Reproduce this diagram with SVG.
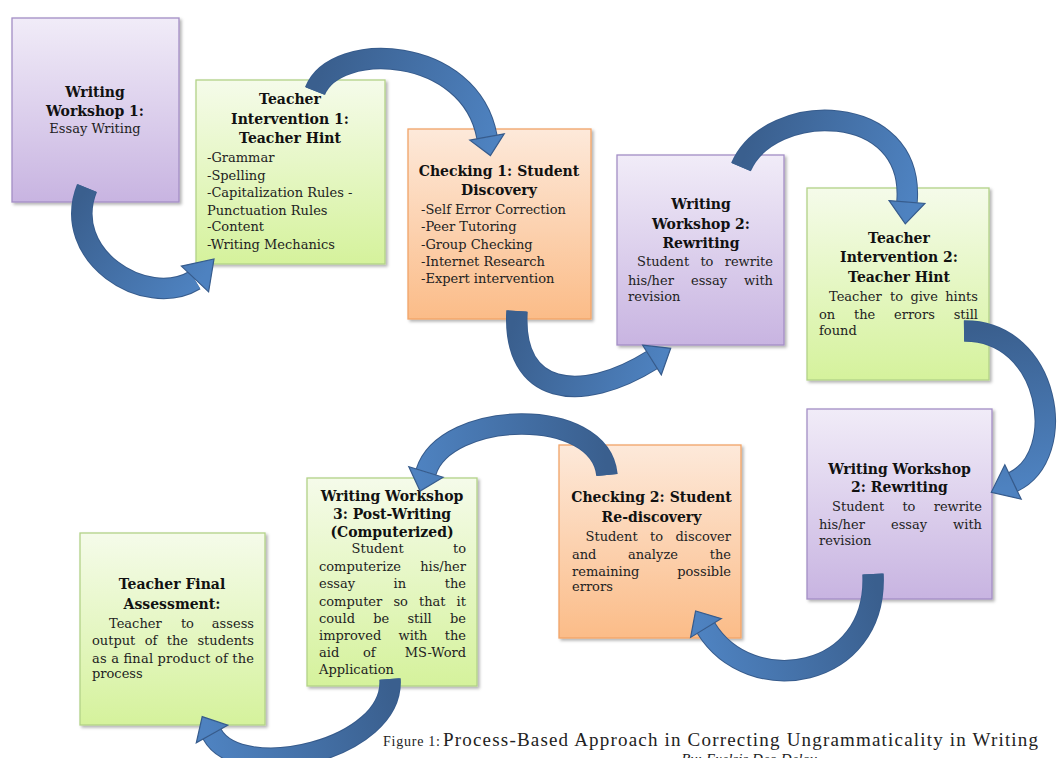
<svg xmlns="http://www.w3.org/2000/svg" width="1057" height="758" viewBox="0 0 1057 758">
<defs>
<linearGradient id="gPurple" x1="0" y1="0" x2="0" y2="1"><stop offset="0" stop-color="#f1ecf8"/><stop offset="1" stop-color="#c8b4e1"/></linearGradient>
<linearGradient id="gGreen" x1="0" y1="0" x2="0" y2="1"><stop offset="0" stop-color="#f5fbea"/><stop offset="1" stop-color="#d5f29c"/></linearGradient>
<linearGradient id="gOrange" x1="0" y1="0" x2="0" y2="1"><stop offset="0" stop-color="#fde9da"/><stop offset="1" stop-color="#fbbc88"/></linearGradient>
<filter id="sh" x="-5%" y="-5%" width="115%" height="115%"><feDropShadow dx="2" dy="2" stdDeviation="1.5" flood-color="#000" flood-opacity="0.3"/></filter>
<linearGradient id="a1" gradientUnits="userSpaceOnUse" x1="87" y1="188" x2="205" y2="275"><stop offset="0" stop-color="#3a5f8e"/><stop offset="1" stop-color="#4e82c0"/></linearGradient>
<linearGradient id="a2" gradientUnits="userSpaceOnUse" x1="315" y1="91" x2="490" y2="150"><stop offset="0" stop-color="#3a5f8e"/><stop offset="1" stop-color="#4e82c0"/></linearGradient>
<linearGradient id="a3" gradientUnits="userSpaceOnUse" x1="517" y1="311" x2="665" y2="355"><stop offset="0" stop-color="#3a5f8e"/><stop offset="1" stop-color="#4e82c0"/></linearGradient>
<linearGradient id="a4" gradientUnits="userSpaceOnUse" x1="741" y1="167" x2="906" y2="215"><stop offset="0" stop-color="#3a5f8e"/><stop offset="1" stop-color="#4e82c0"/></linearGradient>
<linearGradient id="a5" gradientUnits="userSpaceOnUse" x1="964" y1="331" x2="995" y2="490"><stop offset="0" stop-color="#3a5f8e"/><stop offset="1" stop-color="#4e82c0"/></linearGradient>
<linearGradient id="a6" gradientUnits="userSpaceOnUse" x1="873" y1="574" x2="698" y2="615"><stop offset="0" stop-color="#3a5f8e"/><stop offset="1" stop-color="#4e82c0"/></linearGradient>
<linearGradient id="a7" gradientUnits="userSpaceOnUse" x1="607" y1="475" x2="420" y2="485"><stop offset="0" stop-color="#3a5f8e"/><stop offset="1" stop-color="#4e82c0"/></linearGradient>
<linearGradient id="a8" gradientUnits="userSpaceOnUse" x1="390" y1="679" x2="205" y2="720"><stop offset="0" stop-color="#3a5f8e"/><stop offset="1" stop-color="#4e82c0"/></linearGradient>
</defs>
<style>
.box{filter:url(#sh);stroke-width:1.3}
.p{fill:url(#gPurple);stroke:#a38ec5}
.g{fill:url(#gGreen);stroke:#b2d287}
.o{fill:url(#gOrange);stroke:#f2a468}
.t{font-family:"DejaVu Serif",serif;font-weight:bold;font-size:14px;fill:#111;text-anchor:middle}
.b{font-family:"DejaVu Serif",serif;font-size:13px;fill:#222}
.e{text-anchor:end}
.bo{fill:none;stroke:#365b8c;stroke-width:21.5}
.bi{fill:none;stroke-width:19.5}
.hd{stroke:#365b8c;stroke-width:1.2}
.cap{font-family:"Liberation Serif",serif;fill:#222}
</style>
<rect width="1057" height="758" fill="#fff"/>

<g id="node-ww1">
<rect class="box p" x="12" y="18" width="167" height="184"/>
<text class="t" x="95" y="97">Writing</text>
<text class="t" x="95" y="116">Workshop 1:</text>
<text class="b" x="95" y="133" text-anchor="middle">Essay Writing</text>
</g>

<g id="node-ti1">
<rect class="box g" x="196" y="80" width="189" height="184"/>
<text class="t" x="290" y="104">Teacher</text>
<text class="t" x="290" y="124">Intervention 1:</text>
<text class="t" x="290" y="143">Teacher Hint</text>
<text class="b" x="207" y="162">-Grammar</text>
<text class="b" x="207" y="179.5">-Spelling</text>
<text class="b" x="207" y="197">-Capitalization Rules -</text>
<text class="b" x="207" y="214.5">Punctuation Rules</text>
<text class="b" x="207" y="231">-Content</text>
<text class="b" x="207" y="249">-Writing Mechanics</text>
</g>

<g id="node-ch1">
<rect class="box o" x="408" y="129" width="183" height="190"/>
<text class="t" x="499" y="175.5">Checking 1: Student</text>
<text class="t" x="499" y="195">Discovery</text>
<text class="b" x="421" y="214">-Self Error Correction</text>
<text class="b" x="421" y="231">-Peer Tutoring</text>
<text class="b" x="421" y="248.5">-Group Checking</text>
<text class="b" x="421" y="265.5">-Internet Research</text>
<text class="b" x="421" y="282.5">-Expert intervention</text>
</g>

<g id="node-ww2">
<rect class="box p" x="617" y="155" width="167" height="190"/>
<text class="t" x="701" y="209">Writing</text>
<text class="t" x="701" y="229">Workshop 2:</text>
<text class="t" x="701" y="247.5">Rewriting</text>
<text class="b" y="266"><tspan x="637">Student</tspan><tspan x="700.4">to</tspan><tspan x="773" class="e">rewrite</tspan></text>
<text class="b" y="284.5"><tspan x="628">his/her</tspan><tspan x="691">essay</tspan><tspan x="773" class="e">with</tspan></text>
<text class="b" x="628" y="300.5">revision</text>
</g>

<g id="node-ti2">
<rect class="box g" x="807" y="188" width="182" height="192"/>
<text class="t" x="899" y="243">Teacher</text>
<text class="t" x="899" y="262">Intervention 2:</text>
<text class="t" x="899" y="282">Teacher Hint</text>
<text class="b" y="301"><tspan x="829">Teacher</tspan><tspan x="890">to</tspan><tspan x="910.4">give</tspan><tspan x="978" class="e">hints</tspan></text>
<text class="b" y="318.5"><tspan x="819">on</tspan><tspan x="854">the</tspan><tspan x="894">errors</tspan><tspan x="978" class="e">still</tspan></text>
<text class="b" x="819" y="334.5">found</text>
</g>

<g id="node-ww2b">
<rect class="box p" x="807" y="409" width="185" height="190"/>
<text class="t" x="899.5" y="474">Writing Workshop</text>
<text class="t" x="899.5" y="492">2: Rewriting</text>
<text class="b" y="511"><tspan x="832">Student</tspan><tspan x="902.4">to</tspan><tspan x="982" class="e">rewrite</tspan></text>
<text class="b" y="528.5"><tspan x="819">his/her</tspan><tspan x="891">essay</tspan><tspan x="982" class="e">with</tspan></text>
<text class="b" x="819" y="545">revision</text>
</g>

<g id="node-ch2">
<rect class="box o" x="559" y="445" width="182" height="193"/>
<text class="t" x="651.5" y="502">Checking 2: Student</text>
<text class="t" x="651.5" y="521.5">Re-discovery</text>
<text class="b" y="541"><tspan x="585.5">Student</tspan><tspan x="650">to</tspan><tspan x="731" class="e">discover</tspan></text>
<text class="b" y="558.5"><tspan x="572">and</tspan><tspan x="628">analyze</tspan><tspan x="731" class="e">the</tspan></text>
<text class="b" y="575.5"><tspan x="572">remaining</tspan><tspan x="731" class="e">possible</tspan></text>
<text class="b" x="572" y="591">errors</text>
</g>

<g id="node-ww3">
<rect class="box g" x="307" y="478" width="170" height="208"/>
<text class="t" x="392" y="501">Writing Workshop</text>
<text class="t" x="392" y="519">3: Post-Writing</text>
<text class="t" x="392" y="536.5">(Computerized)</text>
<text class="b" y="553"><tspan x="351.5">Student</tspan><tspan x="466" class="e">to</tspan></text>
<text class="b" y="570.5"><tspan x="319">computerize</tspan><tspan x="466" class="e">his/her</tspan></text>
<text class="b" y="588"><tspan x="319">essay</tspan><tspan x="393.6">in</tspan><tspan x="466" class="e">the</tspan></text>
<text class="b" y="605.5"><tspan x="319">computer</tspan><tspan x="393.4">so</tspan><tspan x="419">that</tspan><tspan x="466" class="e">it</tspan></text>
<text class="b" y="623"><tspan x="319">could</tspan><tspan x="373.2">be</tspan><tspan x="407.4">still</tspan><tspan x="466" class="e">be</tspan></text>
<text class="b" y="639.5"><tspan x="319">improved</tspan><tspan x="398.5">with</tspan><tspan x="466" class="e">the</tspan></text>
<text class="b" y="657"><tspan x="319">aid</tspan><tspan x="363">of</tspan><tspan x="466" class="e">MS-Word</tspan></text>
<text class="b" x="319" y="674">Application</text>
</g>

<g id="node-final">
<rect class="box g" x="80" y="533" width="185" height="192"/>
<text class="t" x="172" y="589">Teacher Final</text>
<text class="t" x="172" y="609">Assessment:</text>
<text class="b" y="628"><tspan x="109">Teacher</tspan><tspan x="180.9">to</tspan><tspan x="254" class="e">assess</tspan></text>
<text class="b" y="645"><tspan x="92">output</tspan><tspan x="144.7">of</tspan><tspan x="166.7">the</tspan><tspan x="254" class="e">students</tspan></text>
<text class="b" x="92" y="662.5" textLength="162" lengthAdjust="spacing">as a final product of the</text>
<text class="b" x="92" y="678">process</text>
</g>

<g id="connectors">
<path class="bo" d="M87,188 C60,255 145,310 195,280"/>
<path class="bi" stroke="url(#a1)" d="M87,188 C60,255 145,310 195,280"/>
<polygon class="hd" fill="url(#a1)" points="181.4,266.1 214,259 208.6,291.9"/>

<path class="bo" d="M315,91 C335,40 470,45 487,137"/>
<path class="bi" stroke="url(#a2)" d="M315,91 C335,40 470,45 487,137"/>
<polygon class="hd" fill="url(#a2)" points="469.8,140.2 504.2,133.8 490.4,155.6"/>

<path class="bo" d="M517,311 C512,395 580,405 652,360"/>
<path class="bi" stroke="url(#a3)" d="M517,311 C512,395 580,405 652,360"/>
<polygon class="hd" fill="url(#a3)" points="642.7,345.2 670.7,348.3 661.3,374.8"/>

<path class="bo" d="M741,167 C770,100 915,100 907,202"/>
<path class="bi" stroke="url(#a4)" d="M741,167 C770,100 915,100 907,202"/>
<polygon class="hd" fill="url(#a4)" points="889.1,200.6 924.9,203.4 905.3,223.9"/>

<path class="bo" d="M964,331 C1050,330 1070,455 1013,482"/>
<path class="bi" stroke="url(#a5)" d="M964,331 C1050,330 1070,455 1013,482"/>
<polygon class="hd" fill="url(#a5)" points="1004.8,464.8 1021.2,499.2 991.3,492.3"/>

<path class="bo" d="M873,574 C878,680 750,700 706,628"/>
<path class="bi" stroke="url(#a6)" d="M873,574 C878,680 750,700 706,628"/>
<polygon class="hd" fill="url(#a6)" points="721.4,618.6 690.6,637.4 695.6,610.9"/>

<path class="bo" d="M607,475 C600,405 445,410 426,472"/>
<path class="bi" stroke="url(#a7)" d="M607,475 C600,405 445,410 426,472"/>
<polygon class="hd" fill="url(#a7)" points="443.2,477.3 408.8,466.7 420.1,491.1"/>

<path class="bo" d="M390,679 C395,750 240,785 212,734"/>
<path class="bi" stroke="url(#a8)" d="M390,679 C395,750 240,785 212,734"/>
<polygon class="hd" fill="url(#a8)" points="227.7,725.2 196.3,742.8 202.2,716.6"/>
</g>

<g id="caption">
<text class="cap" x="383" y="746" font-size="14" textLength="57" lengthAdjust="spacing">Figure 1:</text>
<text class="cap" x="443" y="746" font-size="19" textLength="595" lengthAdjust="spacing">Process-Based  Approach  in Correcting Ungrammaticality  in Writing</text>
<text class="cap" x="749" y="764" font-size="15" font-style="italic" text-anchor="middle">By: Exelsis Deo Deloy</text>
</g>
</svg>
